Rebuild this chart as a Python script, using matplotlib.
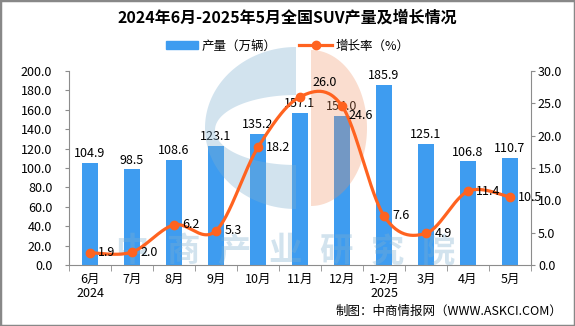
import numpy as np
import matplotlib.pyplot as plt
from matplotlib.patches import Patch, Polygon, Rectangle
from matplotlib.lines import Line2D
from matplotlib.transforms import Affine2D
from matplotlib.ticker import FormatStrFormatter

plt.rcParams['font.family'] = ['Noto Sans CJK SC', 'DejaVu Sans']

# 数据
months = ['6月\n2024', '7月', '8月', '9月', '10月', '11月', '12月',
          '1-2月\n2025', '3月', '4月', '5月']
output = [104.9, 98.5, 108.6, 123.1, 135.2, 157.1, 154.0, 185.9, 125.1, 106.8, 110.7]
growth = [1.9, 2.0, 6.2, 5.3, 18.2, 26.0, 24.6, 7.6, 4.9, 11.4, 10.5]

BLUE = '#3E9CF0'
ORANGE = '#FF6320'
GRAY = '#8C8C8C'
W, H = 575, 326


def smooth(xs, ys, n=30):
    # 平滑曲线(分段贝塞尔)
    p = np.column_stack([xs, ys]).astype(float)
    out = []
    for i in range(len(p) - 1):
        p0 = p[i - 1] if i > 0 else p[i]
        p1, p2 = p[i], p[i + 1]
        p3 = p[i + 2] if i + 2 < len(p) else p[i + 1]
        c1 = p1 + (p2 - p0) / 6
        c2 = p2 - (p3 - p1) / 6
        t = np.linspace(0, 1, n)[:, None]
        seg = ((1 - t) ** 3) * p1 + 3 * ((1 - t) ** 2) * t * c1 + 3 * (1 - t) * t ** 2 * c2 + t ** 3 * p2
        out.append(seg if i == 0 else seg[1:])
    out = np.vstack(out)
    return out[:, 0], out[:, 1]


fig = plt.figure(figsize=(W / 100, H / 100), dpi=100)
ax = fig.add_axes([69 / W, 61 / H, 462 / W, 194 / H])
x = np.arange(len(months))

bars = ax.bar(x, output, width=0.38, color=BLUE, zorder=2)
ax.bar_label(bars, fmt='%.1f', padding=2, fontsize=9)
ax.set_xlim(-0.5, len(months) - 0.5)
ax.set_ylim(0, 200)
ax.set_yticks(range(0, 201, 20))
ax.yaxis.set_major_formatter(FormatStrFormatter('%.1f'))
ax.set_xticks(x)
ax.set_xticklabels(months, fontsize=9, linespacing=1.1)
ax.set_xticks(np.arange(-0.5, len(months), 1), minor=True)
ax.tick_params(axis='x', which='major', length=0, pad=6)
ax.tick_params(axis='x', which='minor', length=4, color=GRAY)
ax.tick_params(axis='y', length=3, color=GRAY, labelsize=9, pad=9)
for s in ['top', 'right']:
    ax.spines[s].set_visible(False)
for s in ['left', 'bottom']:
    ax.spines[s].set_color(GRAY)

ax2 = ax.twinx()
ax2.set_ylim(0, 30)
ax2.set_yticks(range(0, 31, 5))
ax2.yaxis.set_major_formatter(FormatStrFormatter('%.1f'))
ax2.tick_params(axis='y', length=3, color=GRAY, labelsize=9, pad=2)
for s in ['top', 'left', 'bottom']:
    ax2.spines[s].set_visible(False)
ax2.spines['right'].set_color(GRAY)

# 水印
px = Affine2D().scale(1 / W, -1 / H).translate(0, 1) + fig.transFigure
t1 = np.linspace(np.pi / 2, 3 * np.pi / 2, 80)
t2 = t1[::-1]
c_shape = np.vstack([
    np.column_stack([296 + 91 * np.cos(t1), 128 - 81 * np.sin(t1)]),
    np.column_stack([296 + 81 * np.cos(t2), 130 - 35 * np.sin(t2)]),
])
ax2.add_patch(Polygon(c_shape, closed=True, facecolor='#7FAFD0', edgecolor='none',
                      alpha=0.35, transform=px, clip_on=False, zorder=1))
t3 = np.linspace(-np.pi / 2, np.pi / 2, 80)
half = np.column_stack([311 + 56 * np.cos(t3), 128 - 78 * np.sin(t3)])
ax2.add_patch(Polygon(half, closed=True, facecolor='#F09060', edgecolor='none',
                      alpha=0.3, transform=px, clip_on=False, zorder=1))
for i, ch in enumerate('中商产业研究院'):
    ax2.text(132 + 51 * i, 252, ch, transform=px, ha='center', va='center',
             fontsize=24, fontweight='bold', color='#7FAFD0', alpha=0.35, zorder=1)

# 增长率折线
sx, sy = smooth(x, growth)
ax2.plot(sx, sy, color=ORANGE, lw=2.3, zorder=3, solid_capstyle='round')
ax2.plot(x, growth, 'o', color=ORANGE, ms=6, zorder=4)
offsets = {5: (9, 10), 6: (5, -7)}
for i, v in enumerate(growth):
    ax2.annotate(f'{v:.1f}', (x[i], v), xytext=offsets.get(i, (6, 0)),
                 textcoords='offset points', ha='left', va='center',
                 fontsize=9, zorder=5)

handles = [Patch(color=BLUE),
           Line2D([], [], color=ORANGE, lw=2.3, marker='o', ms=6)]
fig.legend(handles, ['产量（万辆）', '增长率（%）'], loc='center',
           bbox_to_anchor=(0.5, 1 - 46 / H), ncol=2, frameon=False, fontsize=9,
           handlelength=2.6, handleheight=0.55, columnspacing=1.8, handletextpad=0.3)

fig.text(0.5, 1 - 18 / H, '2024年6月-2025年5月全国SUV产量及增长情况',
         ha='center', va='center', fontsize=11.5, fontweight='bold')
fig.text(562 / W, 1 - 311 / H, '制图：中商情报网（WWW.ASKCI.COM）',
         ha='right', va='center', fontsize=9)

fig.add_artist(Rectangle((0, 0), 1, 1, transform=fig.transFigure, fill=False,
                         edgecolor='#888888', lw=2.5))

fig.savefig('out.png', dpi=100)
